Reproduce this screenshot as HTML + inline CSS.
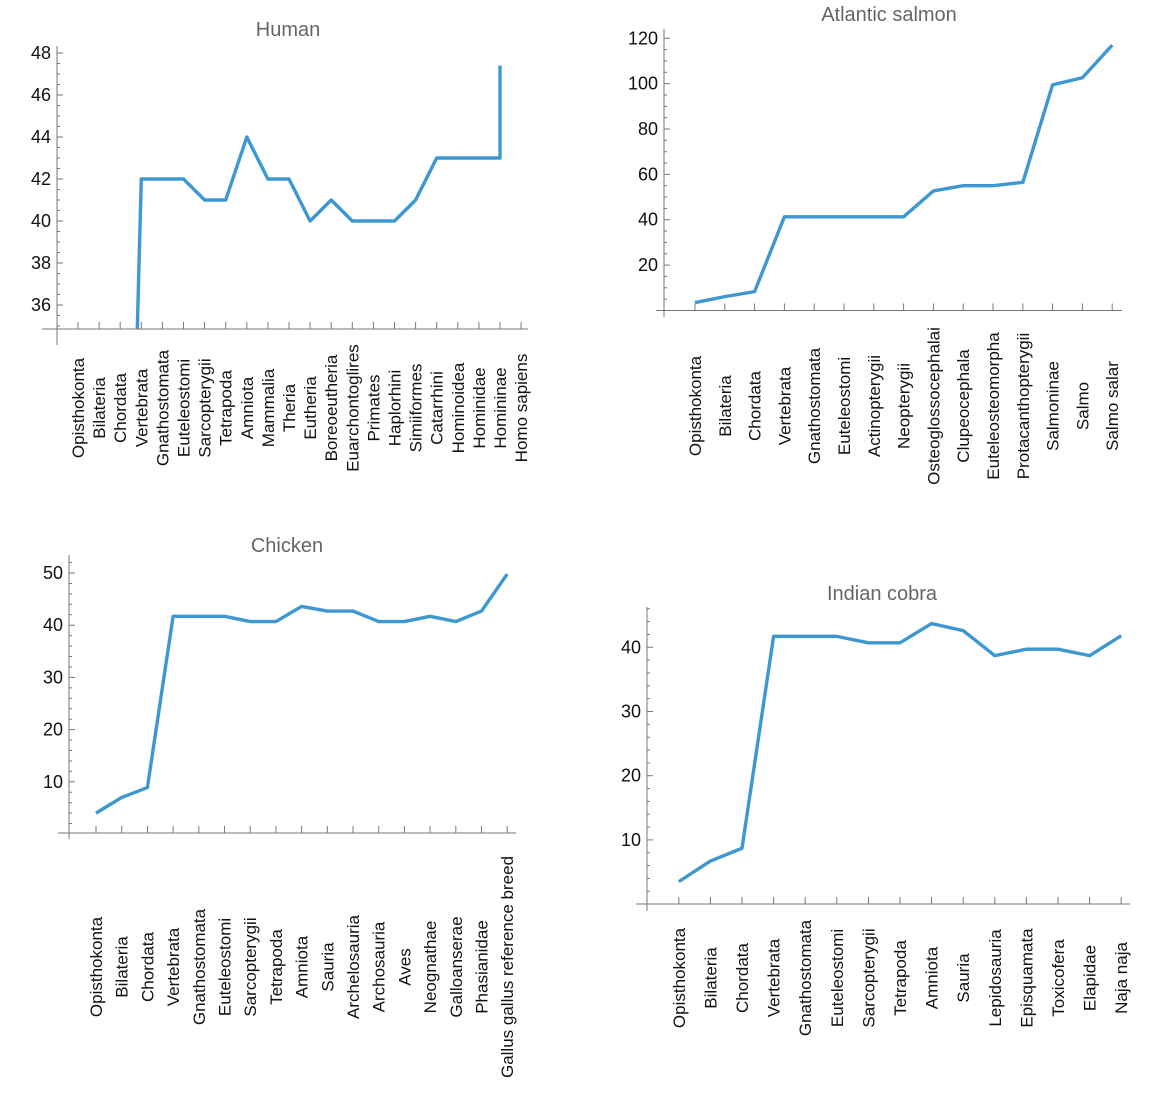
<!DOCTYPE html>
<html><head><meta charset="utf-8"><style>
html,body{margin:0;padding:0;background:#fff;}
svg{display:block;}
text{font-family:"Liberation Sans",Arial,sans-serif;}
</style></head><body>
<svg id="s" width="1156" height="1094" viewBox="0 0 1156 1094" xmlns="http://www.w3.org/2000/svg"></svg>
<script>
const S=document.getElementById('s');let out='';
const AX='#777',LC='#3d97d0';
function chart(c){
  const yv=v=>c.y0+(c.v0-v)*c.k;
  out+=`<text x="${c.tx}" y="${c.ty}" font-size="20" fill="#666" text-anchor="middle" dominant-baseline="central">${c.title}</text>`;
  out+=`<line x1="${c.ax}" y1="${c.aTop}" x2="${c.ax}" y2="${c.aBot}" stroke="${AX}" stroke-width="1"/>`;
  out+=`<line x1="${c.xL}" y1="${c.xa}" x2="${c.xR}" y2="${c.xa}" stroke="${AX}" stroke-width="1"/>`;
  for(let v=c.mMin;v<=c.mMax+1e-9;v+=c.minor){
    const y=yv(v); if(y<c.aTop||y>c.xa-1)continue;
    const maj=Math.abs(v/c.major-Math.round(v/c.major))<1e-6;
    out+=`<line x1="${c.ax}" y1="${y}" x2="${c.ax+(maj?6:3)}" y2="${y}" stroke="${AX}"/>`;
    if(maj&&v>=c.lMin) out+=`<text x="${c.ax-6}" y="${y}" font-size="18" text-anchor="end" dominant-baseline="central" fill="#111">${v}</text>`;
  }
  c.labels.forEach((l,i)=>{
    const x=c.x0+i*c.dx;
    out+=`<line x1="${x}" y1="${c.xa}" x2="${x}" y2="${c.xa-7}" stroke="${AX}"/>`;
    out+=`<text transform="translate(${x+6},${c.ly}) rotate(-90)" font-size="17" text-anchor="middle" fill="#111">${l}</text>`;
  });
  const pts=c.pts.map(p=>`${p[0]},${p[1]}`).join(' ');
  out+=`<defs><clipPath id="c${c.id}"><rect x="${c.ax}" y="0" width="600" height="${c.xa-0.5}"/></clipPath></defs>`;
  out+=`<polyline points="${pts}" fill="none" stroke="${LC}" stroke-width="3.4" stroke-linejoin="round" clip-path="url(#c${c.id})"/>`;
}
function mk(c,vals){const yv=v=>c.y0+(c.v0-v)*c.k;return vals.map((v,i)=>[c.x0+i*c.dx,yv(v)]);}
let h={id:1,title:'Human',tx:288,ty:30,ax:57,aTop:46,aBot:345,xL:42,xR:528,xa:329,y0:53,v0:48,k:21,
 minor:0.5,major:2,mMin:35,mMax:48,lMin:36,x0:78,dx:21.1,ly:408,
 labels:['Opisthokonta','Bilateria','Chordata','Vertebrata','Gnathostomata','Euteleostomi','Sarcopterygii','Tetrapoda','Amniota','Mammalia','Theria','Eutheria','Boreoeutheria','Euarchontoglires','Primates','Haplorhini','Simiiformes','Catarrhini','Hominoidea','Hominidae','Homininae','Homo sapiens']};
{const v=[42,42,42,41,41,44,42,42,40,41,40,40,40,40,41,43,43,43,43];
 const v2=[42,42,42,41,41,44,42,42,40,41,40,40,40,41,43,43,43,43];
 let p=v2.map((x,i)=>[h.x0+(i+3)*h.dx,h.y0+(48-x)*21]);
 p.unshift([137,340]); p.push([500,h.y0+(48-47.4)*21]); h.pts=p;}
chart(h);
let s={id:2,title:'Atlantic salmon',tx:889,ty:15,ax:664,aTop:29,aBot:317,xL:656,xR:1122,xa:310.5,y0:38.3,v0:120,k:2.268,
 minor:5,major:20,mMin:0,mMax:120,lMin:20,x0:695,dx:29.8,ly:406,
 labels:['Opisthokonta','Bilateria','Chordata','Vertebrata','Gnathostomata','Euteleostomi','Actinopterygii','Neopterygii','Osteoglossocephalai','Clupeocephala','Euteleosteomorpha','Protacanthopterygii','Salmoninae','Salmo','Salmo salar']};
s.pts=mk(s,[3.5,6.1,8.3,41.3,41.3,41.3,41.3,41.3,52.7,55,55,56.5,99.5,102.6,117]);
chart(s);
let c={id:3,title:'Chicken',tx:287,ty:546,ax:69,aTop:555,aBot:839,xL:58,xR:516,xa:833,y0:573,v0:50,k:5.22,
 minor:2,major:10,mMin:0,mMax:52,lMin:10,x0:96,dx:25.7,ly:967,
 labels:['Opisthokonta','Bilateria','Chordata','Vertebrata','Gnathostomata','Euteleostomi','Sarcopterygii','Tetrapoda','Amniota','Sauria','Archelosauria','Archosauria','Aves','Neognathae','Galloanserae','Phasianidae','Gallus gallus reference breed']};
c.pts=mk(c,[4,7,8.9,41.7,41.7,41.7,40.7,40.7,43.6,42.7,42.7,40.7,40.7,41.7,40.7,42.7,49.8]);
chart(c);
let b={id:4,title:'Indian cobra',tx:882,ty:594,ax:647,aTop:607,aBot:911,xL:636,xR:1130,xa:904,y0:647.3,v0:40,k:6.42,
 minor:2,major:10,mMin:0,mMax:46,lMin:10,x0:678.8,dx:31.6,ly:978,
 labels:['Opisthokonta','Bilateria','Chordata','Vertebrata','Gnathostomata','Euteleostomi','Sarcopterygii','Tetrapoda','Amniota','Sauria','Lepidosauria','Episquamata','Toxicofera','Elapidae','Naja naja']};
b.pts=mk(b,[3.5,6.7,8.7,41.7,41.7,41.7,40.7,40.7,43.7,42.6,38.7,39.7,39.7,38.7,41.8]);
chart(b);
S.innerHTML=out;
</script>
</body></html>
